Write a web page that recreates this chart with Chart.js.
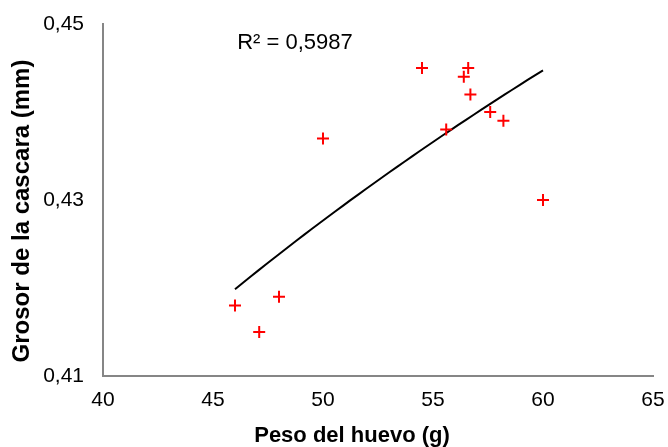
<!DOCTYPE html>
<html>
<head>
<meta charset="utf-8">
<script src="https://cdn.jsdelivr.net/npm/chart.js@4/dist/chart.umd.min.js"></script>
<style>
  html, body { margin: 0; padding: 0; background: #fff; }
  #wrap { width: 668px; height: 447px; }
</style>
</head>
<body>
<div id="wrap"><canvas id="chart"></canvas></div>
<script>
// Peso del huevo (g) vs grosor de la cascara (mm)
const pesoHuevo = [46, 47.1, 48, 50, 54.5, 55.6, 56.4, 56.6, 56.7, 57.6, 58.2, 60];
const grosorCascara = [0.418, 0.415, 0.419, 0.437, 0.445, 0.438, 0.444, 0.445, 0.442, 0.440, 0.439, 0.430];
const xTicks = [40, 45, 50, 55, 60, 65];
const yTicks = [0.41, 0.43, 0.45];
const xTitle = 'Peso del huevo (g)';
const yTitle = 'Grosor de la cascara (mm)';
const r2Label = 'R² = 0,5987';

// Logarithmic trend line (least squares on ln x), as in the spreadsheet
function logFit(xs, ys) {
  const lx = xs.map((x) => Math.log(x));
  const n = xs.length;
  const mx = lx.reduce((a, b) => a + b, 0) / n;
  const my = ys.reduce((a, b) => a + b, 0) / n;
  let sxy = 0, sxx = 0;
  for (let i = 0; i < n; i++) {
    sxy += (lx[i] - mx) * (ys[i] - my);
    sxx += (lx[i] - mx) * (lx[i] - mx);
  }
  const a = sxy / sxx;
  return { a, b: my - a * mx };
}

const fit = logFit(pesoHuevo, grosorCascara);
const xMin = Math.min(...pesoHuevo);
const xMax = Math.max(...pesoHuevo);
const trend = [];
for (let i = 0; i <= 40; i++) {
  const x = xMin + (xMax - xMin) * i / 40;
  trend.push({ x, y: fit.a * Math.log(x) + fit.b });
}

const FONT = "'Liberation Sans', Arial, sans-serif";
const AXIS = '#868686';

// R² label and axis titles (titles sit a little off-centre in the original)
const textPlugin = {
  id: 'chartText',
  afterDraw(chart) {
    const { ctx, scales } = chart;
    ctx.save();
    ctx.fillStyle = '#000';
    ctx.textBaseline = 'middle';

    ctx.font = '22px ' + FONT;
    ctx.textAlign = 'left';
    ctx.fillText(r2Label, scales.x.getPixelForValue(46.1), scales.y.getPixelForValue(0.4478));

    ctx.font = 'bold 22px ' + FONT;
    ctx.textAlign = 'center';
    ctx.fillText(xTitle, 352, 436);

    ctx.font = 'bold 24px ' + FONT;
    ctx.translate(22, 211);
    ctx.rotate(-Math.PI / 2);
    ctx.fillText(yTitle, 0, 0);
    ctx.restore();
  },
};

new Chart(document.getElementById('chart'), {
  type: 'scatter',
  data: {
    datasets: [
      {
        label: 'Grosor',
        data: pesoHuevo.map((x, i) => ({ x, y: grosorCascara[i] })),
        pointStyle: 'cross',
        pointRadius: 6,
        pointBorderWidth: 2,
        borderColor: '#ff0000',
        backgroundColor: '#ff0000',
        order: 1,
      },
      {
        label: 'Tendencia',
        type: 'line',
        data: trend,
        borderColor: '#000',
        borderWidth: 2,
        pointRadius: 0,
        fill: false,
        order: 2,
      },
    ],
  },
  options: {
    responsive: true,
    maintainAspectRatio: false,
    animation: false,
    layout: { padding: { top: 24, right: 15, left: 0, bottom: 0 } },
    plugins: {
      legend: { display: false },
      tooltip: { enabled: false },
    },
    scales: {
      x: {
        type: 'linear',
        min: 40,
        max: 65,
        afterBuildTicks: (s) => { s.ticks = xTicks.map((v) => ({ value: v })); },
        afterFit: (s) => { s.height = 71; s.paddingRight = 0; },
        grid: { display: false, drawTicks: true, tickLength: 6, tickColor: AXIS },
        border: { color: AXIS, width: 2 },
        ticks: { color: '#000', font: { family: FONT, size: 21 }, padding: 6 },
        title: { display: false },
      },
      y: {
        type: 'linear',
        min: 0.41,
        max: 0.45,
        afterBuildTicks: (s) => { s.ticks = yTicks.map((v) => ({ value: v })); },
        afterFit: (s) => { s.width = 103; },
        grid: { display: false, drawTicks: true, tickLength: 8, tickColor: AXIS },
        border: { color: AXIS, width: 2 },
        ticks: {
          color: '#000',
          font: { family: FONT, size: 21 },
          padding: 11,
          callback: (v) => v.toFixed(2).replace('.', ','),
        },
        title: { display: false },
      },
    },
  },
  plugins: [textPlugin],
});
</script>
</body>
</html>
